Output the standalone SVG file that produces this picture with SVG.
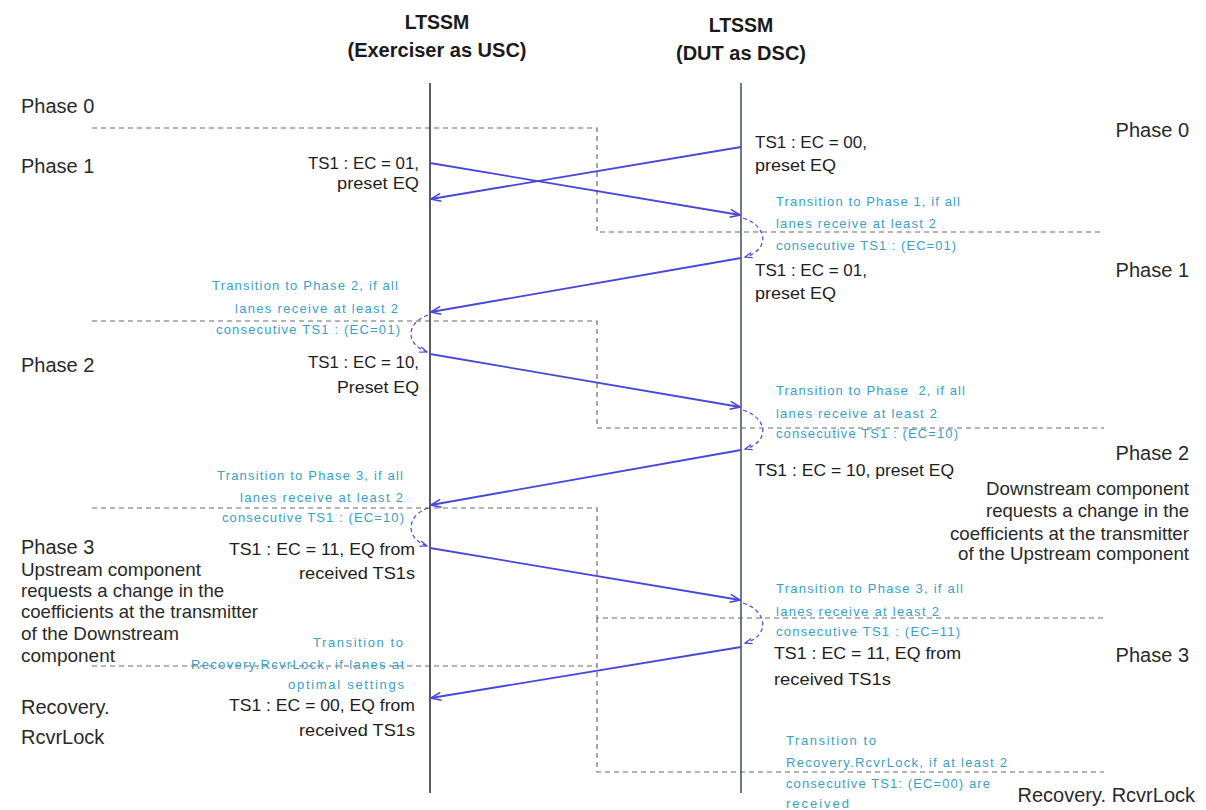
<svg xmlns="http://www.w3.org/2000/svg" width="1206" height="810" viewBox="0 0 1206 810">
<style>
.hdr{font-family:"Liberation Sans",Arial,sans-serif;font-weight:bold;fill:#1a1a1a;text-anchor:middle}
.ph{font-family:"Liberation Sans",Arial,sans-serif;font-size:20px;fill:#2a2a2a}
.ts{font-family:"Liberation Sans",Arial,sans-serif;font-size:16.5px;fill:#1e1e1e}
.cy{font-family:"Liberation Sans",Arial,sans-serif;font-size:13px;fill:#3a9fc6}
.par{font-family:"Liberation Sans",Arial,sans-serif;font-size:19px;fill:#2a2a2a}
.end{text-anchor:end}
.life{stroke:#333;stroke-width:1.6}
.dash{fill:none;stroke:#6b6b6b;stroke-width:1.2;stroke-dasharray:5 4}
.msg{stroke:#4848d8;stroke-width:1.8;fill:none;marker-end:url(#ah)}
.loop{stroke:#4848d8;stroke-width:1.2;fill:none;stroke-dasharray:4 3;marker-end:url(#ah2)}
</style>
<defs>
<marker id="ah" viewBox="0 0 12 10" refX="11" refY="5" markerWidth="12" markerHeight="10" markerUnits="userSpaceOnUse" orient="auto"><path d="M1,1 L11,5 L1,9" fill="none" stroke="#4848d8" stroke-width="1.6"/></marker>
<marker id="ah2" viewBox="0 0 10 8" refX="9" refY="4" markerWidth="9" markerHeight="8" markerUnits="userSpaceOnUse" orient="auto"><path d="M1,1 L9,4 L1,7" fill="none" stroke="#4848d8" stroke-width="1.3"/></marker>
</defs>
<rect width="1206" height="810" fill="#ffffff"/>

<g id="phase-boundaries">
<path class="dash" d="M92,128 H597 V232 H1104"/>
<path class="dash" d="M92,321 H597 V428 H1104"/>
<path class="dash" d="M92,508 H597 V618 H1104"/>
<path class="dash" d="M92,666 H597"/>
<path class="dash" d="M597,618 V772 H1104"/>
</g>

<g id="lifeline-usc">
<text class="hdr" x="437" y="29" font-size="19.5">LTSSM</text>
<text class="hdr" x="437" y="57" font-size="20">(Exerciser as USC)</text>
<line class="life" x1="430" y1="83" x2="430" y2="793"/>
</g>
<g id="lifeline-dsc">
<text class="hdr" x="741" y="32" font-size="19.5">LTSSM</text>
<text class="hdr" x="741" y="60" font-size="20">(DUT as DSC)</text>
<line class="life" x1="741" y1="83" x2="741" y2="793" style="stroke:#4c5866"/>
</g>

<g id="phase-labels-left">
<text class="ph" x="21" y="113">Phase 0</text>
<text class="ph" x="21" y="173">Phase 1</text>
<text class="ph" x="21" y="372">Phase 2</text>
<text class="ph" x="21" y="554">Phase 3</text>
<text class="ph" x="21" y="714" font-size="21.5">Recovery.</text>
<text class="ph" x="21" y="744" font-size="21">RcvrLock</text>
</g>
<g id="phase-labels-right">
<text class="ph end" x="1189" y="137">Phase 0</text>
<text class="ph end" x="1189" y="277">Phase 1</text>
<text class="ph end" x="1189" y="460">Phase 2</text>
<text class="ph end" x="1189" y="662">Phase 3</text>
<text class="ph end" x="1195" y="802" font-size="22">Recovery. RcvrLock</text>
</g>

<g id="note-usc">
<text class="par" x="21" y="576" textLength="180" lengthAdjust="spacingAndGlyphs">Upstream component</text>
<text class="par" x="21" y="597" textLength="203" lengthAdjust="spacingAndGlyphs">requests a change in the</text>
<text class="par" x="21" y="618" textLength="237" lengthAdjust="spacingAndGlyphs">coefficients at the transmitter</text>
<text class="par" x="21" y="640" textLength="158" lengthAdjust="spacingAndGlyphs">of the Downstream</text>
<text class="par" x="21" y="662" textLength="94" lengthAdjust="spacingAndGlyphs">component</text>
</g>
<g id="note-dsc">
<text class="par end" x="1189" y="495" textLength="203" lengthAdjust="spacingAndGlyphs">Downstream component</text>
<text class="par end" x="1189" y="517" textLength="203" lengthAdjust="spacingAndGlyphs">requests a change in the</text>
<text class="par end" x="1189" y="540" textLength="239" lengthAdjust="spacingAndGlyphs">coefficients at the transmitter</text>
<text class="par end" x="1189" y="560" textLength="231" lengthAdjust="spacingAndGlyphs">of the Upstream component</text>
</g>

<g id="ts1-usc">
<text class="ts end" x="419" y="169" textLength="111" lengthAdjust="spacingAndGlyphs">TS1 : EC = 01,</text>
<text class="ts end" x="419" y="189" textLength="82" lengthAdjust="spacingAndGlyphs">preset EQ</text>
<text class="ts end" x="419" y="368" textLength="111" lengthAdjust="spacingAndGlyphs">TS1 : EC = 10,</text>
<text class="ts end" x="419" y="393" textLength="82" lengthAdjust="spacingAndGlyphs">Preset EQ</text>
<text class="ts end" x="415" y="555" textLength="186" lengthAdjust="spacingAndGlyphs">TS1 : EC = 11, EQ from</text>
<text class="ts end" x="415" y="579" textLength="116" lengthAdjust="spacingAndGlyphs">received TS1s</text>
<text class="ts end" x="415" y="711" textLength="186" lengthAdjust="spacingAndGlyphs">TS1 : EC = 00, EQ from</text>
<text class="ts end" x="415" y="736" textLength="116" lengthAdjust="spacingAndGlyphs">received TS1s</text>
</g>
<g id="ts1-dsc">
<text class="ts" x="755" y="148" textLength="112" lengthAdjust="spacingAndGlyphs">TS1 : EC = 00,</text>
<text class="ts" x="755" y="171" textLength="81" lengthAdjust="spacingAndGlyphs">preset EQ</text>
<text class="ts" x="755" y="276" textLength="112" lengthAdjust="spacingAndGlyphs">TS1 : EC = 01,</text>
<text class="ts" x="755" y="299" textLength="81" lengthAdjust="spacingAndGlyphs">preset EQ</text>
<text class="ts" x="755" y="476" textLength="199" lengthAdjust="spacingAndGlyphs">TS1 : EC = 10, preset EQ</text>
<text class="ts" x="774" y="659" textLength="187" lengthAdjust="spacingAndGlyphs">TS1 : EC = 11, EQ from</text>
<text class="ts" x="774" y="685" textLength="117" lengthAdjust="spacingAndGlyphs">received TS1s</text>
</g>

<g id="transitions-dsc">
<text class="cy" x="776" y="206" textLength="184">Transition to Phase 1, if all</text>
<text class="cy" x="776" y="228" textLength="160">lanes receive at least 2</text>
<text class="cy" x="776" y="250" textLength="180">consecutive TS1 : (EC=01)</text>
<text class="cy" x="776" y="395" textLength="189" xml:space="preserve">Transition to Phase  2, if all</text>
<text class="cy" x="776" y="418" textLength="161">lanes receive at least 2</text>
<text class="cy" x="776" y="438" textLength="182">consecutive TS1 : (EC=10)</text>
<text class="cy" x="776" y="593" textLength="187">Transition to Phase 3, if all</text>
<text class="cy" x="776" y="616" textLength="163">lanes receive at least 2</text>
<text class="cy" x="776" y="636" textLength="184">consecutive TS1 : (EC=11)</text>
<text class="cy" x="786" y="745" textLength="90">Transition to</text>
<text class="cy" x="786" y="767" textLength="221">Recovery.RcvrLock, if at least 2</text>
<text class="cy" x="786" y="788" textLength="204">consecutive TS1: (EC=00) are</text>
<text class="cy" x="786" y="808" textLength="63">received</text>
</g>
<g id="transitions-usc">
<text class="cy end" x="398" y="290" textLength="186">Transition to Phase 2, if all</text>
<text class="cy end" x="398" y="313" textLength="163">lanes receive at least 2</text>
<text class="cy end" x="400" y="334" textLength="184">consecutive TS1 : (EC=01)</text>
<text class="cy end" x="403" y="480" textLength="186">Transition to Phase 3, if all</text>
<text class="cy end" x="403" y="502" textLength="163">lanes receive at least 2</text>
<text class="cy end" x="404" y="522" textLength="182">consecutive TS1 : (EC=10)</text>
<text class="cy end" x="403" y="647" textLength="90">Transition to</text>
<text class="cy end" x="404" y="669" textLength="213">Recovery.RcvrLock, if lanes at</text>
<text class="cy end" x="404" y="689" textLength="116">optimal settings</text>
</g>

<g id="connectors">
<line class="msg" x1="741" y1="147" x2="431" y2="199"/>
<line class="msg" x1="430" y1="163" x2="740" y2="215"/>
<path class="loop" d="M743,218 C768,226 770,250 745,257"/>
<line class="msg" x1="741" y1="258" x2="431" y2="312"/>
<path class="loop" d="M428,315 C406,323 405,344 427,352"/>
<line class="msg" x1="430" y1="354" x2="740" y2="407"/>
<path class="loop" d="M743,410 C768,418 770,442 745,449"/>
<line class="msg" x1="741" y1="450" x2="431" y2="505"/>
<path class="loop" d="M428,508 C406,516 405,538 427,546"/>
<line class="msg" x1="430" y1="548" x2="740" y2="600"/>
<path class="loop" d="M743,603 C768,611 770,636 745,643"/>
<line class="msg" x1="741" y1="647" x2="431" y2="698"/>
</g>
</svg>
